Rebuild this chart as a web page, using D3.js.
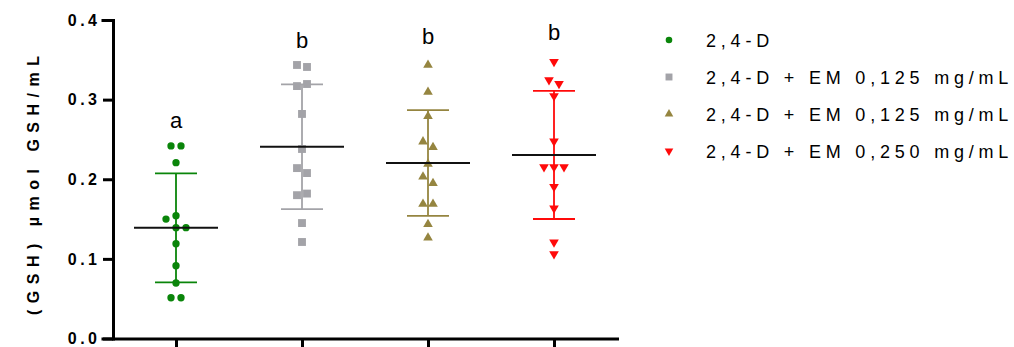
<html>

<head>
    <script src="https://d3js.org/d3.v7.min.js"></script>
    <style>
        body {
            margin: 0;
            background: white;
        }

        * {
            font-family: Arial, "Liberation Sans", sans-serif;
        }

        .axis text {
            font-size: 16px;
            font-weight: bold;
            letter-spacing: 3.5px;
            fill: black;
        }

        .axis path,
        .axis line {
            stroke: black;
            stroke-width: 3px;
        }

        .ylabel {
            font-size: 16px;
            font-weight: bold;
            letter-spacing: 6.5px;
        }

        .legend text {
            font-size: 18px;
            letter-spacing: 4.8px;
        }

        .sig {
            font-size: 22px;
        }
    </style>
</head>

<body>
    <svg id="chart" width="1014" height="347"></svg>
</body>

<script>
    // groups and legend labels
    const groups = ["2,4-D", "2,4-D + EM 0,125 mg/mL", "2,4-D + EM 0,125 mg/mL ", "2,4-D + EM 0,250 mg/mL"];
    const colors = ["#0a850a", "#a3a3a8", "#958540", "#ff0a0a"];
    const letters = ["a", "b", "b", "b"];
    const letterY = [0.264, 0.365, 0.370, 0.375];

    // individual values (umol GSH/mL)
    const values = [
        [0.2418, 0.2418, 0.2208, 0.1542, 0.150, 0.1392, 0.1392, 0.119, 0.0914, 0.0697, 0.0512, 0.0512],
        [0.3435, 0.341, 0.317, 0.3196, 0.282, 0.238, 0.214, 0.2078, 0.180, 0.182, 0.145, 0.1212],
        [0.3435, 0.3096, 0.279, 0.2472, 0.2401, 0.2192, 0.2032, 0.1949, 0.1689, 0.1689, 0.1434, 0.1266],
        [0.3476, 0.3246, 0.320, 0.3046, 0.2477, 0.2154, 0.2154, 0.2154, 0.1906, 0.1635, 0.1208, 0.1061]
    ];
    // scatter column of each point (GraphPad-style spreading)
    const slots = [
        [-0.5, 0.5, 0, 0, -1, 0, 1, 0, 0, 0, -0.5, 0.5],
        [-0.5, 0.5, -0.5, 0.5, 0, 0, -0.5, 0.5, -0.5, 0.5, 0, 0],
        [0, 0, 0, -0.5, 0.5, 0, -0.5, 0.5, -0.5, 0.5, 0, 0],
        [0, -0.5, 0.5, 0, 0, -1, 0, 1, 0, 0, 0, 0]
    ];
    const means = [0.139, 0.2409, 0.2204, 0.2305];
    const sds = [0.0684, 0.0783, 0.0664, 0.0804];

    const yTicks = [0, 0.1, 0.2, 0.3, 0.4];

    const svg = d3.select("#chart");
    const plotLeft = 113, plotRight = 617, plotTop = 20, plotBottom = 338.5;

    const x = d3.scalePoint().domain(groups).range([plotLeft, plotRight]).padding(0.5);
    const y = d3.scaleLinear().domain([0, 0.4]).range([plotBottom, plotTop]);
    const slotWidth = 10;

    const shapes = [
        d3.symbol().type(d3.symbolCircle),
        d3.symbol().type(d3.symbolSquare),
        d3.symbol().type(d3.symbolTriangle),
        d3.symbol().type(d3.symbolTriangle)
    ];
    const sizes = [42, 62, 40, 40];
    const legendSizes = [34, 48, 32, 32];
    const rot = [0, 0, 0, 180];

    // axes
    svg.append("g")
        .attr("class", "axis")
        .attr("transform", `translate(${plotLeft},0)`)
        .call(d3.axisLeft(y).tickValues(yTicks).tickFormat(d3.format(".1f")).tickSize(10).tickPadding(6))
        .call(g => g.selectAll("text").attr("dx", "3.5px"));

    svg.append("g")
        .attr("class", "axis")
        .attr("transform", `translate(0,${plotBottom})`)
        .call(d3.axisBottom(x).tickSize(10).tickFormat("").tickSizeOuter(0));

    svg.selectAll(".axis .domain").attr("stroke-linecap", "square");

    // y label
    svg.append("text")
        .attr("class", "ylabel")
        .attr("transform", `translate(39,${(plotTop + plotBottom) / 2 + 3}) rotate(-90)`)
        .attr("text-anchor", "middle")
        .text("(GSH) µmol GSH/mL");

    const plot = svg.append("g");

    groups.forEach((gname, i) => {
        const cx = x(gname);
        const g = plot.append("g");

        // error bar (SD)
        g.append("line")
            .attr("x1", cx).attr("x2", cx)
            .attr("y1", y(means[i] + sds[i])).attr("y2", y(means[i] - sds[i]))
            .attr("stroke", colors[i]).attr("stroke-width", 1.8);
        [means[i] + sds[i], means[i] - sds[i]].forEach(v => {
            g.append("line")
                .attr("x1", cx - 21).attr("x2", cx + 21)
                .attr("y1", y(v)).attr("y2", y(v))
                .attr("stroke", colors[i]).attr("stroke-width", 1.8);
        });

        // points
        g.selectAll("path.pt")
            .data(values[i].map((v, j) => ({ v: v, s: slots[i][j] })))
            .join("path")
            .attr("class", "pt")
            .attr("d", shapes[i].size(sizes[i]))
            .attr("fill", colors[i])
            .attr("transform", d => `translate(${cx + d.s * slotWidth},${y(d.v)}) rotate(${rot[i]})`);

        // mean line
        g.append("line")
            .attr("x1", cx - 42).attr("x2", cx + 42)
            .attr("y1", y(means[i])).attr("y2", y(means[i]))
            .attr("stroke", "#111").attr("stroke-width", 2);

        // significance letter
        g.append("text")
            .attr("class", "sig")
            .attr("x", cx)
            .attr("y", y(letterY[i]))
            .attr("text-anchor", "middle")
            .text(letters[i]);
    });

    // legend
    const legend = svg.append("g").attr("class", "legend");
    const legendRows = d3.scaleLinear().domain([0, 3]).range([40, 151]);
    groups.forEach((gname, i) => {
        const ly = legendRows(i);
        legend.append("path")
            .attr("d", shapes[i].size(legendSizes[i]))
            .attr("fill", colors[i])
            .attr("transform", `translate(669,${ly}) rotate(${rot[i]})`);
        legend.append("text")
            .attr("x", 706)
            .attr("y", ly + 2)
            .attr("dominant-baseline", "middle")
            .text(gname.trim());
    });
</script>

</html>
